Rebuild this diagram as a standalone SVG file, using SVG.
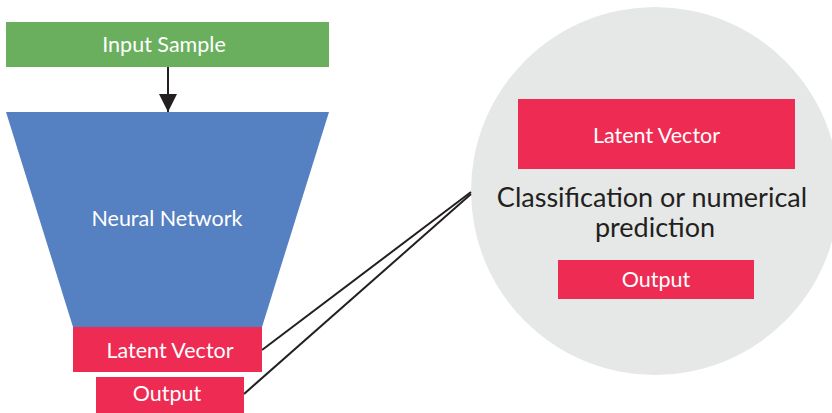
<svg xmlns="http://www.w3.org/2000/svg" width="832" height="413" viewBox="0 0 832 413">
  <style>
    .lbl { font-family: Lato, "Liberation Sans", sans-serif; font-size: 21.5px; fill: #ffffff; text-anchor: middle; }
    .red { fill: #EE2B53; }
    .dark { font-family: Lato, "Liberation Sans", sans-serif; font-size: 27px; fill: #231F20; text-anchor: middle; }
    .conn { stroke: #231F20; stroke-width: 2; fill: none; }
  </style>
  <defs>
    <marker id="arrowhead" viewBox="0 0 18 18" refX="18" refY="9" markerWidth="18" markerHeight="18" markerUnits="userSpaceOnUse" orient="auto">
      <path d="M0,0 L18,9 L0,18 Z" fill="#231F20"/>
    </marker>
  </defs>

  <!-- zoomed-in detail bubble -->
  <g id="detail">
    <circle cx="655" cy="191" r="184" fill="#E6E7E7"/>
  </g>

  <g id="connectors">
    <line class="conn" x1="168" y1="67" x2="168" y2="112" marker-end="url(#arrowhead)"/>
    <line class="conn" x1="262" y1="350" x2="471" y2="192"/>
    <line class="conn" x1="244" y1="394" x2="471" y2="194"/>
  </g>

  <g id="input-sample">
    <rect x="6" y="22" width="323" height="45" fill="#6AAF5E"/>
    <text class="lbl" x="164" y="52">Input Sample</text>
  </g>

  <g id="neural-network">
    <polygon points="6,112 329,112 262,327 73,327" fill="#5580C1"/>
    <text class="lbl" x="167" y="226">Neural Network</text>
  </g>

  <g id="latent-vector">
    <rect class="red" x="73" y="327" width="189" height="45"/>
    <text class="lbl" x="170" y="358">Latent Vector</text>
  </g>

  <g id="output">
    <rect class="red" x="96" y="377" width="148" height="36"/>
    <text class="lbl" x="167" y="401">Output</text>
  </g>

  <g id="detail-latent-vector">
    <rect class="red" x="518" y="99" width="277" height="70"/>
    <text class="lbl" x="656.5" y="143">Latent Vector</text>
  </g>

  <g id="detail-caption">
    <text class="dark" x="652" y="207">Classification or numerical</text>
    <text class="dark" x="655" y="237">prediction</text>
  </g>

  <g id="detail-output">
    <rect class="red" x="558" y="260" width="196" height="39"/>
    <text class="lbl" x="656" y="287">Output</text>
  </g>
</svg>
